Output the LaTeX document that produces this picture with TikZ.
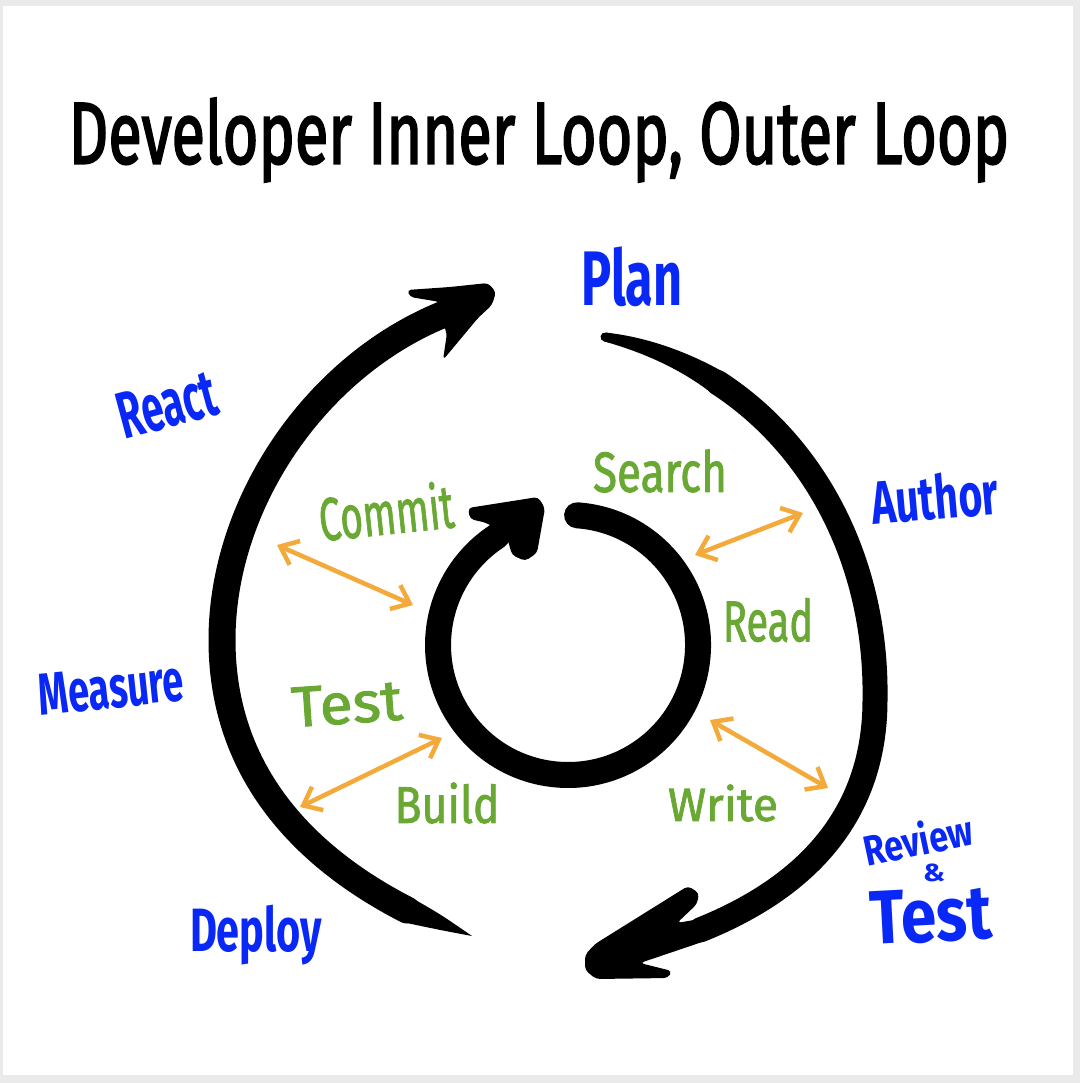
\documentclass[tikz,border=0pt]{standalone}
\usepackage{fontspec}
\setmainfont{Fira Sans}
\newfontfamily\titlefont{Fira Sans}[FakeBold=2.5]
\newfontfamily\greenfont{Fira Sans}[FakeBold=1.6]
\usepackage{graphicx}
\usetikzlibrary{arrows.meta}
\definecolor{hblue}{RGB}{10,40,245}
\definecolor{hgreen}{RGB}{106,168,52}
\definecolor{horange}{RGB}{243,170,58}
\definecolor{framegray}{RGB}{234,234,234}
\newcommand\fitto[3]{\resizebox*{#1pt}{#2pt}{#3}}
\begin{document}
\begin{tikzpicture}[x=1pt,y=-1pt,
  lbl/.style={inner sep=0pt, font=\bfseries},
  outerlbl/.style={lbl, text=hblue},
  innerlbl/.style={inner sep=0pt, font=\greenfont, text=hgreen},
  xarrow/.style={draw=horange, line width=4.5pt, line cap=round, line join=round,
    {Straight Barb[length=16pt,width=26pt]}-{Straight Barb[length=16pt,width=26pt]}},
  brushline/.style={draw=black, line width=#1, line cap=round, line join=round},
  headfill/.style={fill=black, rounded corners=4pt}
]
\useasboundingbox (0,0) rectangle (1080,1083);
\fill[framegray] (0,0) rectangle (1080,1083);
\fill[white] (3,6) rectangle (1073,1075);

% title
\node[inner sep=0pt, font=\titlefont, text=black] (title) at (539,140) {\fitto{940}{84}{Developer Inner Loop, Outer Loop}};

% outer loop, left arc
\fill (412,898) .. controls (440,914) .. (472,936) .. controls (440,930) .. (402,922) -- cycle;
\draw[brushline=27pt] (407,910) .. controls (290,850) and (222,760) .. (222,640) .. controls (222,500) and (320,360) .. (452,311);
\path[headfill] (407,290) -- (450,287) -- (488,283) -- (496,292) -- (492,305) -- (478,318) -- (443,360) -- (447,333) -- (440,318) -- (440,302) -- (410,297) -- cycle;

% outer loop, right arc
\draw[brushline=9pt] (605,337) .. controls (646.25,345.25) and (683.9,360.8) .. (717.2,382.3);
\fill (605.9,332.6) .. controls (647,337) and (688,352) .. (723.7,372.2) -- (710.7,392.4) .. controls (680,369) and (645,353) .. (604.1,341.4) -- cycle;
\draw[brushline=25pt] (717.2,382.3) .. controls (817.1,446.9) and (877.25,565) .. (875,700) .. controls (875,820) and (800,890) .. (700,930);
\path[headfill] (585,955) -- (595,944) -- (688,886) -- (699,893) -- (697,904) -- (677,923) -- (705,918) -- (708,940) -- (640,963) -- (672,971) -- (668,978) -- (596,979) -- (585,970) -- cycle;

% inner loop
\draw[brushline=26pt] (577.1,515.3) arc[start angle=-86, end angle=237, radius=130];
\path[headfill] (468,508) -- (538,497) -- (545,508) -- (537,553) -- (525,561) -- (512,555) -- (507,537) -- (487,523) -- (470,519) -- cycle;

% orange double arrows
\coordinate (a1) at (277,545); \coordinate (b1) at (413,605);
\coordinate (a2) at (695,555); \coordinate (b2) at (803,513);
\coordinate (a3) at (442,738); \coordinate (b3) at (300,807);
\coordinate (a4) at (710,720); \coordinate (b4) at (828,788);
\draw[xarrow] (a1) -- (b1);
\draw[xarrow] (a2) -- (b2);
\draw[xarrow] (a3) -- (b3);
\draw[xarrow] (a4) -- (b4);

% outer labels
\node[outerlbl] (plan) at (632,277) {\fitto{101}{60}{Plan}};
\node[outerlbl, rotate=15] (react) at (167,405) {\fitto{101}{47}{React}};
\node[outerlbl, rotate=5] (author) at (935,497) {\fitto{127}{47}{Author}};
\node[outerlbl, rotate=6] (measure) at (111,688) {\fitto{146}{42}{Measure}};
\node[outerlbl] (deploy) at (256,935) {\fitto{132}{60}{Deploy}};
\node[outerlbl, rotate=12] (review) at (918,839) {\fitto{110}{35}{Review}};
\node[outerlbl] (amp) at (934,873) {\fitto{22}{18}{\&}};
\node[outerlbl, rotate=3] (rtest) at (931,916) {\fitto{122}{54}{Test}};

% inner labels
\node[innerlbl] (search) at (660,471) {\fitto{134}{43}{Search}};
\node[innerlbl, rotate=6] (commit) at (386,511) {\fitto{135}{48}{Commit}};
\node[innerlbl] (read) at (768,620) {\fitto{90}{44}{Read}};
\node[innerlbl, rotate=4] (itest) at (347,704) {\fitto{111}{40}{Test}};
\node[innerlbl] (build) at (447,803) {\fitto{105}{41}{Build}};
\node[innerlbl] (write) at (723,803) {\fitto{110}{37}{Write}};
\end{tikzpicture}
\end{document}
